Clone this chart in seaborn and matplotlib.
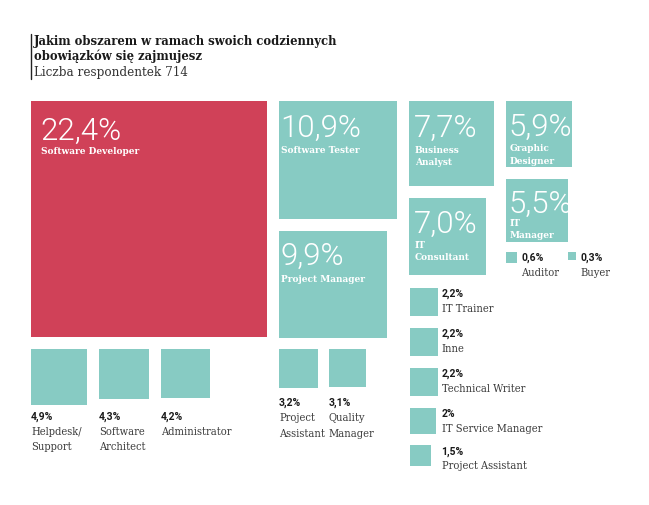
import matplotlib
matplotlib.use("Agg")
import matplotlib.pyplot as plt
from matplotlib.patches import Rectangle
import seaborn as sns

# ---- data ----
names = ["Software Developer", "Software Tester", "Project Manager", "Business\nAnalyst",
         "IT\nConsultant", "Graphic\nDesigner", "IT\nManager", "Auditor", "Buyer",
         "Helpdesk/\nSupport", "Software\nArchitect", "Administrator",
         "Project\nAssistant", "Quality\nManager",
         "IT Trainer", "Inne", "Technical Writer", "IT Service Manager", "Project Assistant"]
values = [22.4, 10.9, 9.9, 7.7, 7.0, 5.9, 5.5, 0.6, 0.3,
          4.9, 4.3, 4.2, 3.2, 3.1, 2.2, 2.2, 2.2, 2.0, 1.5]
pct_labels = ["22,4%", "10,9%", "9,9%", "7,7%", "7,0%", "5,9%", "5,5%", "0,6%", "0,3%",
              "4,9%", "4,3%", "4,2%", "3,2%", "3,1%", "2,2%", "2,2%", "2,2%", "2%", "1,5%"]
title_lines = ["Jakim obszarem w ramach swoich codziennych", "obowiązków się zajmujesz"]
subtitle = "Liczba respondentek 714"

# ---- style ----
sns.set_theme(style="white")
RED = "#D04158"
TEAL = "#87CBC3"
GAP = 12

W, H = 649, 506
fig = plt.figure(figsize=(W / 100, H / 100), dpi=100)
ax = fig.add_axes([0, 0, 1, 1])
ax.set_xlim(0, W)
ax.set_ylim(H, 0)
ax.axis("off")

def side(v):
    return 5.6 + 10.29 * v

S = [side(v) for v in values]
pos = [None] * len(values)

def right_of(i, gap=GAP):
    return pos[i][0] + S[i] + gap
def below(i, gap=GAP):
    return pos[i][1] + S[i] + gap

pos[0] = (31, 102)
pos[1] = (right_of(0), 102)
pos[2] = (pos[1][0], below(1))
pos[3] = (right_of(1), 102)
pos[4] = (pos[3][0], below(3))
pos[5] = (right_of(3), 102)
pos[6] = (pos[5][0], below(5))
pos[7] = (pos[5][0], below(6, 10))
pos[8] = (pos[5][0] + 62, below(6, 10))
y_row1 = below(0)
x = pos[0][0]
for i in (9, 10, 11):
    pos[i] = (x, y_row1)
    x += S[i] + GAP
y_row2 = below(2, 11)
x = pos[2][0]
for i in (12, 13):
    pos[i] = (x, y_row2)
    x += S[i] + 11.3
y = below(4, 12.3)
for i in (14, 15, 16, 17, 18):
    pos[i] = (410, y)
    y += S[i] + 11.7

for i, (px, py) in enumerate(pos):
    ax.add_patch(Rectangle((px, py), S[i], S[i], facecolor=RED if i == 0 else TEAL,
                           edgecolor="none"))

SERIF = "DejaVu Serif"
BIG = dict(family="Roboto", fontweight=300, color="white", fontsize=22.5,
           va="baseline", ha="left")
LAB = dict(family=SERIF, fontweight="bold", color="white", fontsize=7.2, va="center",
           ha="left", fontstretch="condensed")

def lines(x, y, text, step, **kw):
    for k, line in enumerate(text.split("\n")):
        ax.text(x, y + k * step, line, **kw)

# big squares: (dx, baseline dy, label first line offset)
big_offsets = {0: (9.5, 37.7, 12), 1: (1.5, 34.7, 14), 2: (1.5, 32.7, 15.5),
               3: (5.5, 34.4, 14), 4: (5.5, 34, 12.7), 5: (3, 33.7, 13), 6: (3, 32.6, 10.5)}
for i, (dx, dy, dl) in big_offsets.items():
    px, py = pos[i]
    ax.text(px + dx, py + dy, pct_labels[i], **BIG)
    lines(px + dx + 0.5, py + dy + dl, names[i], 12.3, **LAB)

PCT = dict(family="Roboto", fontweight="bold", color="#1a1a1a", fontsize=7.5,
           va="center", ha="left")
NAME = dict(family=SERIF, color="#3a3a3a", fontsize=7.9, va="center", ha="left",
            fontstretch="condensed", fontweight="light")

# auditor / buyer
for i in (7, 8):
    px, py = pos[i]
    ax.text(px + S[i] + 4, py + 5, pct_labels[i], **PCT)
    ax.text(px + S[i] + 4, py + 20, names[i], **NAME)

# bottom rows
for i in (9, 10, 11):
    px, py = pos[i]
    ax.text(px, y_row1 + 67, pct_labels[i], **PCT)
    lines(px, y_row1 + 82, names[i], 15.3, **NAME)
for i in (12, 13):
    px, py = pos[i]
    ax.text(px, y_row2 + 53, pct_labels[i], **PCT)
    lines(px, y_row2 + 68, names[i], 15.7, **NAME)

# right column
for i in (14, 15, 16, 17, 18):
    px, py = pos[i]
    ax.text(441.5, py + 5, pct_labels[i], **PCT)
    ax.text(441.5, py + 20, names[i], **NAME)

# title
ax.plot([31, 31], [35, 80], color="#222222", lw=1)
TT = dict(family=SERIF, fontweight="bold", fontsize=9.25, fontstretch="condensed",
          color="#1a1a1a", va="center", ha="left")
ax.text(34, 41.7, title_lines[0], **TT)
ax.text(34, 56.7, title_lines[1], **TT)
ax.text(34, 72, subtitle, family=SERIF, fontweight="light", fontsize=9.6,
        fontstretch="condensed", color="#333333", va="center", ha="left")

fig.savefig("out.png", dpi=100, facecolor="white")
